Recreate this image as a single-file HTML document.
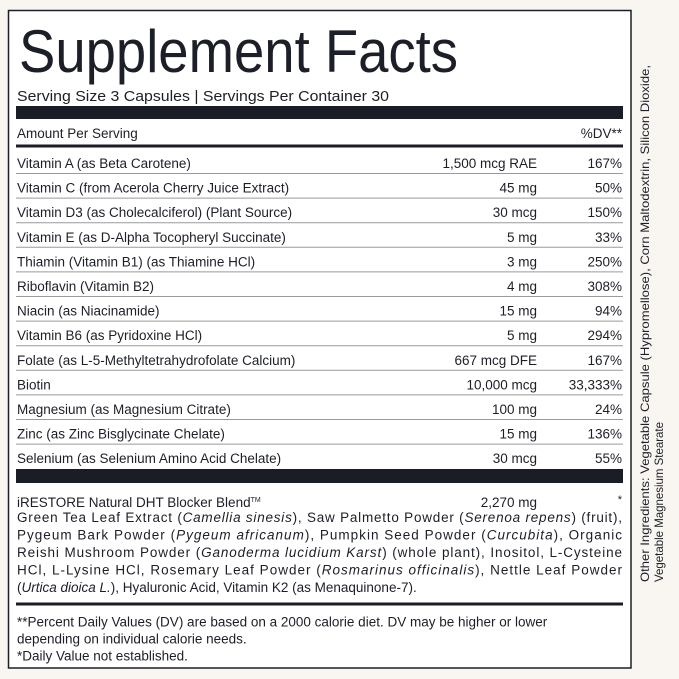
<!DOCTYPE html>
<html><head><meta charset="utf-8"><style>
html,body{margin:0;padding:0;background:#f9f6f1;}
svg{display:block;}
text{font-family:"Liberation Sans",sans-serif;fill:#1c1f27;}
</style></head><body>
<svg width="679" height="679" viewBox="0 0 679 679" xmlns="http://www.w3.org/2000/svg">
<rect x="0" y="0" width="679" height="679" fill="#f9f6f1"/>
<rect x="8.5" y="10.5" width="622.5" height="657.5" fill="#ffffff" stroke="#1c1f27" stroke-width="1.5"/>
<text x="19" y="72" font-size="60" textLength="439" lengthAdjust="spacingAndGlyphs">Supplement Facts</text>
<text x="17" y="101" font-size="14.5" textLength="372" lengthAdjust="spacingAndGlyphs">Serving Size 3 Capsules | Servings Per Container 30</text>
<rect x="16" y="106" width="607" height="13" fill="#1a1d26"/>
<text x="17" y="138" font-size="13.5">Amount Per Serving</text>
<text x="622" y="138" font-size="13.5" text-anchor="end">%DV**</text>
<rect x="16" y="144.5" width="607" height="3" fill="#1a1d26"/>
<g font-size="13.5">
<text x="17" y="168">Vitamin A (as Beta Carotene)</text><text x="537" y="168" text-anchor="end">1,500 mcg RAE</text><text x="622" y="168" text-anchor="end">167%</text>
<text x="17" y="192.6">Vitamin C (from Acerola Cherry Juice Extract)</text><text x="537" y="192.6" text-anchor="end">45 mg</text><text x="622" y="192.6" text-anchor="end">50%</text>
<text x="17" y="217.2">Vitamin D3 (as Cholecalciferol) (Plant Source)</text><text x="537" y="217.2" text-anchor="end">30 mcg</text><text x="622" y="217.2" text-anchor="end">150%</text>
<text x="17" y="241.8">Vitamin E (as D-Alpha Tocopheryl Succinate)</text><text x="537" y="241.8" text-anchor="end">5 mg</text><text x="622" y="241.8" text-anchor="end">33%</text>
<text x="17" y="266.4">Thiamin (Vitamin B1) (as Thiamine HCl)</text><text x="537" y="266.4" text-anchor="end">3 mg</text><text x="622" y="266.4" text-anchor="end">250%</text>
<text x="17" y="291">Riboflavin (Vitamin B2)</text><text x="537" y="291" text-anchor="end">4 mg</text><text x="622" y="291" text-anchor="end">308%</text>
<text x="17" y="315.6">Niacin (as Niacinamide)</text><text x="537" y="315.6" text-anchor="end">15 mg</text><text x="622" y="315.6" text-anchor="end">94%</text>
<text x="17" y="340.2">Vitamin B6 (as Pyridoxine HCl)</text><text x="537" y="340.2" text-anchor="end">5 mg</text><text x="622" y="340.2" text-anchor="end">294%</text>
<text x="17" y="364.8">Folate (as L-5-Methyltetrahydrofolate Calcium)</text><text x="537" y="364.8" text-anchor="end">667 mcg DFE</text><text x="622" y="364.8" text-anchor="end">167%</text>
<text x="17" y="389.4">Biotin</text><text x="537" y="389.4" text-anchor="end">10,000 mcg</text><text x="622" y="389.4" text-anchor="end">33,333%</text>
<text x="17" y="414">Magnesium (as Magnesium Citrate)</text><text x="537" y="414" text-anchor="end">100 mg</text><text x="622" y="414" text-anchor="end">24%</text>
<text x="17" y="438.6">Zinc (as Zinc Bisglycinate Chelate)</text><text x="537" y="438.6" text-anchor="end">15 mg</text><text x="622" y="438.6" text-anchor="end">136%</text>
<text x="17" y="463.2">Selenium (as Selenium Amino Acid Chelate)</text><text x="537" y="463.2" text-anchor="end">30 mcg</text><text x="622" y="463.2" text-anchor="end">55%</text>
</g>
<g stroke="#9a9a9a" stroke-width="1">
<line x1="16" x2="623" y1="173.5" y2="173.5"/><line x1="16" x2="623" y1="198.1" y2="198.1"/><line x1="16" x2="623" y1="222.7" y2="222.7"/><line x1="16" x2="623" y1="247.3" y2="247.3"/><line x1="16" x2="623" y1="271.9" y2="271.9"/><line x1="16" x2="623" y1="296.5" y2="296.5"/><line x1="16" x2="623" y1="321.1" y2="321.1"/><line x1="16" x2="623" y1="345.7" y2="345.7"/><line x1="16" x2="623" y1="370.3" y2="370.3"/><line x1="16" x2="623" y1="394.9" y2="394.9"/><line x1="16" x2="623" y1="419.5" y2="419.5"/><line x1="16" x2="623" y1="444.1" y2="444.1"/>
</g>
<rect x="16" y="469" width="607" height="14" fill="#1a1d26"/>
<g font-size="13.5">
<text x="17" y="507">iRESTORE Natural DHT Blocker Blend<tspan font-size="7" dy="-5">TM</tspan></text>
<text x="537" y="507" text-anchor="end">2,270 mg</text>
<text x="622" y="503" text-anchor="end" font-size="11">*</text>
<text x="17" y="522" textLength="605" lengthAdjust="spacing">Green Tea Leaf Extract (<tspan font-style="italic">Camellia sinesis</tspan>), Saw Palmetto Powder (<tspan font-style="italic">Serenoa repens</tspan>) (fruit),</text>
<text x="17" y="539.5" textLength="605" lengthAdjust="spacing">Pygeum Bark Powder (<tspan font-style="italic">Pygeum africanum</tspan>), Pumpkin Seed Powder (<tspan font-style="italic">Curcubita</tspan>), Organic</text>
<text x="17" y="557" textLength="605" lengthAdjust="spacing">Reishi Mushroom Powder (<tspan font-style="italic">Ganoderma lucidium Karst</tspan>) (whole plant), Inositol, L-Cysteine</text>
<text x="17" y="574.5" textLength="605" lengthAdjust="spacing">HCl, L-Lysine HCl, Rosemary Leaf Powder (<tspan font-style="italic">Rosmarinus officinalis</tspan>), Nettle Leaf Powder</text>
<text x="17" y="592">(<tspan font-style="italic">Urtica dioica L.</tspan>), Hyaluronic Acid, Vitamin K2 (as Menaquinone-7).</text>
</g>
<rect x="16" y="602.5" width="607" height="3" fill="#1a1d26"/>
<g font-size="13.5">
<text x="17" y="626.5">**Percent Daily Values (DV) are based on a 2000 calorie diet. DV may be higher or lower</text>
<text x="17" y="643.5">depending on individual calorie needs.</text>
<text x="17" y="660.5">*Daily Value not established.</text>
</g>
<text transform="translate(649,582) rotate(-90)" font-size="12" textLength="517" lengthAdjust="spacingAndGlyphs">Other Ingredients: Vegetable Capsule (Hypromellose), Corn Maltodextrin, Silicon Dioxide,</text>
<text transform="translate(663,582) rotate(-90)" font-size="12" textLength="160" lengthAdjust="spacingAndGlyphs">Vegetable Magnesium Stearate</text>
</svg>
</body></html>
